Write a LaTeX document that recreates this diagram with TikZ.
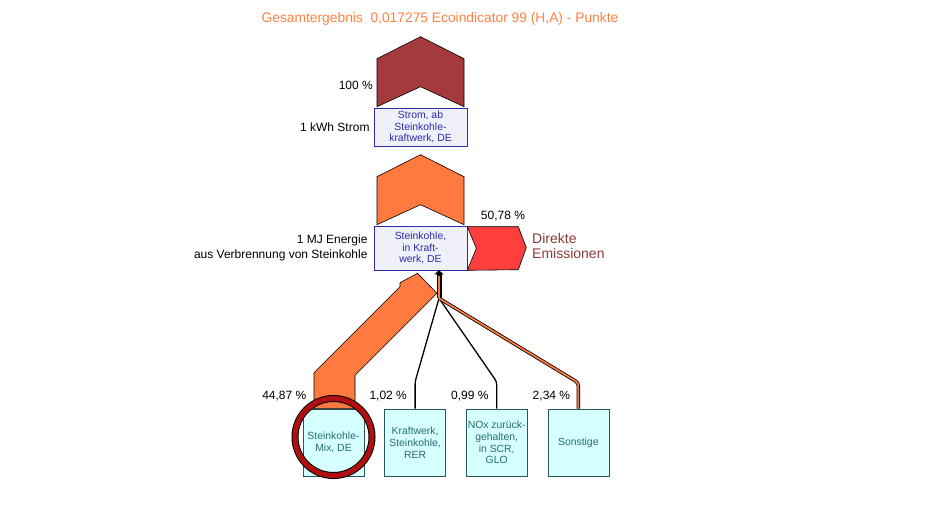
\documentclass[tikz,border=0pt]{standalone}
\usepackage{fontspec}
\setmainfont{Liberation Sans}
\usetikzlibrary{calc}
\usetikzlibrary{positioning}
\usetikzlibrary{arrows.meta}

\definecolor{titleorange}{RGB}{255,128,64}
\definecolor{flowdark}{RGB}{164,58,60}
\definecolor{floworange}{RGB}{255,122,62}
\definecolor{emisred}{RGB}{255,62,62}
\definecolor{emistext}{RGB}{140,56,56}
\definecolor{procfill}{RGB}{240,240,250}
\definecolor{procline}{RGB}{44,44,168}
\definecolor{inputfill}{RGB}{214,255,255}
\definecolor{inputline}{RGB}{40,88,88}
\definecolor{inputtext}{RGB}{40,110,110}
\definecolor{ringred}{RGB}{178,16,16}
\tikzset{
thinline/.style={line width=0.6pt},
process/.style={draw=procline, fill=procfill, text=procline, thinline,
	minimum width=93pt, inner sep=0pt, align=center,
	font=\fontsize{10.4}{11.5}\selectfont},
input/.style={draw=inputline, fill=inputfill, text=inputtext, thinline,
	minimum width=61pt, minimum height=67pt, inner sep=0pt, align=center,
	font=\fontsize{10.4}{11.8}\selectfont},
pct/.style={font=\fontsize{12}{14}\selectfont, anchor=east, inner sep=0pt},
flowlabel/.style={font=\fontsize{12}{15}\selectfont, anchor=east, align=right, inner sep=0pt},
chevron/.style={draw=black, thinline},
thinflow/.style={draw=black, line width=1.3pt, rounded corners=3pt},
mixflow/.style={draw=black, line width=0.8pt, double=floworange,
	double distance=1.8pt, rounded corners=3pt},
}

\begin{document}
\begin{tikzpicture}[x=1pt, y=-1pt]
\useasboundingbox (0,0) rectangle (925,514);

%Place the nodes
\node[font=\fontsize{13.8}{16}\selectfont, text=titleorange] (title) at (440,19)
	{Gesamtergebnis \ 0,017275 Ecoindicator 99 (H,A) - Punkte};
\node[process, minimum height=38pt] (strom) at (420.5,127) {Strom, ab\\Steinkohle-\\kraftwerk, DE};
\node[process, minimum height=44pt] (steinkw) at (420.5,248) {Steinkohle,\\in Kraft-\\werk, DE};

\node[input] (mix) at (333.5,442.5) {Steinkohle-\\Mix, DE};
\node[input, right=20pt of mix] (kw) {Kraftwerk,\\Steinkohle,\\RER};
\node[input, right=20pt of kw] (nox) {NOx zur\"uck-\\gehalten,\\in SCR,\\GLO};
\node[input, right=20pt of nox] (sonst) {Sonstige};

\coordinate (hub) at ($(steinkw.south)+(18.5,28)$);

%Outputs
\draw[chevron, fill=flowdark] ($(strom.north)+(-43.5,-1)$) -- ++(0,-48) -- ++(43.5,-22)
	-- ++(43.5,22) -- ++(0,48) -- ++(-43.5,-20) -- cycle;
\draw[chevron, fill=floworange] ($(steinkw.north)+(-43.5,-1)$) -- ++(0,-48) -- ++(43.5,-22)
	-- ++(43.5,22) -- ++(0,48) -- ++(-43.5,-20) -- cycle;
\draw[chevron, fill=emisred] ($(steinkw.north east)+(0,1)$) -- ++(51,0) -- ++(8,21)
	-- ++(-8,22) -- ($(steinkw.south east)$) -- ++(9,-22) -- cycle;

%Inputs
\draw[chevron, fill=floworange] ($(mix.north)+(-19.5,0)$) -- ++(0,-36) -- ++(86,-86)
	-- ++(0,-4) -- ($(steinkw.south)+(-3,3)$) -- ($(steinkw.south)+(16.5,23)$)
	-- ++(-82,82) -- ($(mix.north)+(21.5,0)$) -- cycle;
\draw[thinflow] (kw.north) -- ++(0,-27) -- (hub);
\draw[thinflow] (nox.north) -- ++(0,-27) -- (hub);
\draw[mixflow] (sonst.north) -- ++(0,-26) -- (hub);
\draw[line width=5pt, -{Triangle[length=4pt, width=9pt]}] (hub) -- ($(steinkw.south)+(18.5,0)$);
\draw[floworange, line width=1.6pt] (hub) -- ++(0,-22);

%Labels
\node[pct] at (373,85) {100 \%};
\node[flowlabel, left=4pt of strom] {1 kWh Strom};
\node[flowlabel, left=6pt of steinkw] {1 MJ Energie\\aus Verbrennung von Steinkohle};
\node[pct, anchor=center] at (503,216) {50,78 \%};
\node[font=\fontsize{14}{15.5}\selectfont, text=emistext, align=left, anchor=west, inner sep=0pt]
	at (532,246) {Direkte\\Emissionen};
\node[pct] at ($(mix.north)+(-27,-13)$) {44,87 \%};
\node[pct] at ($(kw.north)+(-8,-13)$) {1,02 \%};
\node[pct] at ($(nox.north)+(-8,-13)$) {0,99 \%};
\node[pct] at ($(sonst.north)+(-8,-13)$) {2,34 \%};

%Highlight
\draw[black, line width=7pt] (333.5,437) circle (38.5pt);
\draw[ringred, line width=5pt] (333.5,437) circle (38.5pt);

\end{tikzpicture}
\end{document}
